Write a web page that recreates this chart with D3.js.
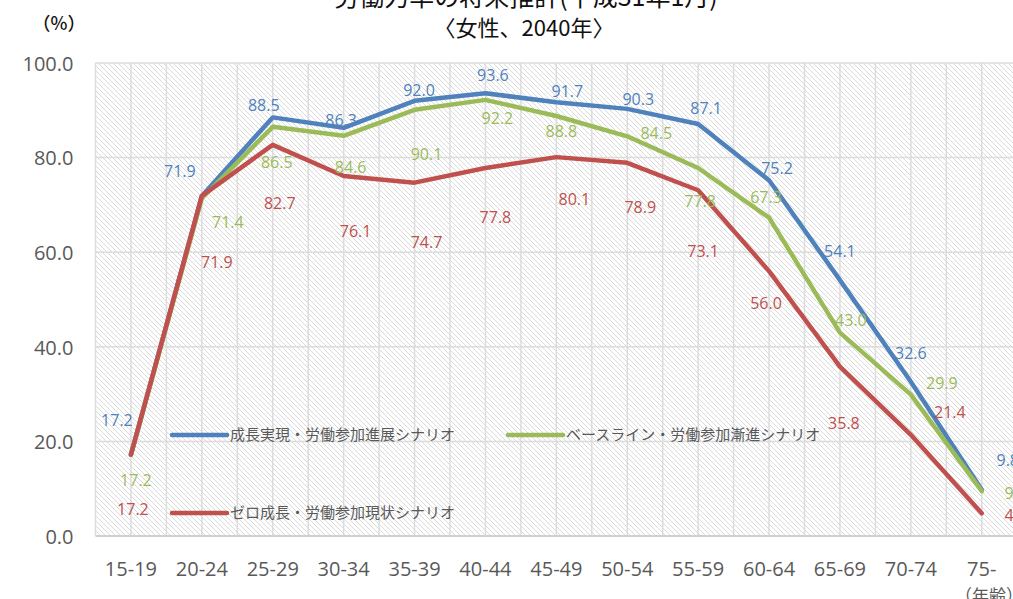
<!DOCTYPE html>
<html>
<head>
<meta charset="utf-8">
<script src="https://cdn.jsdelivr.net/npm/d3@7"></script>
<style>
  html, body { margin: 0; padding: 0; background: #fff; overflow: hidden; }
  svg { display: block; }
</style>
</head>
<body>
<svg id="chart" width="1013" height="599"></svg>
<script>
// ---- data ----
const categories = ["15-19","20-24","25-29","30-34","35-39","40-44","45-49","50-54","55-59","60-64","65-69","70-74","75-"];
const seriesNames = ["成長実現・労働参加進展シナリオ","ベースライン・労働参加漸進シナリオ","ゼロ成長・労働参加現状シナリオ"];
const growthValues   = [17.2, 71.9, 88.5, 86.3, 92.0, 93.6, 91.7, 90.3, 87.1, 75.2, 54.1, 32.6, 9.8];
const baselineValues = [17.2, 71.4, 86.5, 84.6, 90.1, 92.2, 88.8, 84.5, 77.8, 67.3, 43.0, 29.9, 9.5];
const zeroValues     = [17.2, 71.9, 82.7, 76.1, 74.7, 77.8, 80.1, 78.9, 73.1, 56.0, 35.8, 21.4, 4.8];
const yTicks = [0, 20, 40, 60, 80, 100];
const titleLines = ["労働力率の将来推計(平成31年1月)", "〈女性、2040年〉"];
const yUnit = "（%）";
const xUnit = "（年齢）";

// ---- layout / style (not data) ----
const colors = ["#4f81bd", "#9bbb59", "#c0504d"];
const labelOffsets = [
  [[-14,-34],[-22,-25],[-9,-12],[-2.5,-8],[4.5,-11],[7.5,-18],[11,-11],[11,-10],[8,-16],[8,-12],[0,-29],[0,-29],[26,-29]],
  [[5,26],[26,24],[4,35],[7,31],[12,44],[12,18],[5,15],[29,-3],[2,33],[-3,-20],[11,-12],[31,-11],[34,2]],
  [[2,55],[15,66],[7,58],[12,55],[12,60],[10,49],[18,42],[13,44],[5,61],[-3,32],[4,57],[39,-23],[34,2]]
];
const legendPos = [[172, 435], [508, 435], [172, 513]];

const svg = d3.select("#chart");
const plot = { left: 95.5, top: 63, bottom: 536, band: 70.9 };
plot.right = plot.left + plot.band * categories.length;

const x = d3.scaleBand().domain(categories).range([plot.left, plot.right]).padding(0);
const y = d3.scaleLinear().domain([0, 100]).range([plot.bottom, plot.top]);
const cx = c => x(c) + x.bandwidth() / 2;

// hatch pattern
const defs = svg.append("defs");
const pat = defs.append("pattern").attr("id", "hatch").attr("patternUnits", "userSpaceOnUse")
  .attr("width", 5).attr("height", 5);
pat.append("rect").attr("width", 5).attr("height", 5).attr("fill", "#fff");
pat.append("path").attr("d", "M-1,-1 L6,6 M-1,4 L1,6 M4,-1 L6,1")
  .attr("stroke", "#dadada").attr("stroke-width", 1);

svg.append("rect").attr("x", plot.left).attr("y", plot.top)
  .attr("width", plot.right - plot.left).attr("height", plot.bottom - plot.top)
  .attr("fill", "url(#hatch)");

// vertical gridlines (category boundaries and centers)
const vLines = [];
categories.forEach(c => { vLines.push(x(c)); vLines.push(cx(c)); });
vLines.push(plot.right);
svg.append("g").selectAll("line").data(vLines).join("line")
  .attr("x1", d => d).attr("x2", d => d)
  .attr("y1", plot.top).attr("y2", plot.bottom)
  .attr("stroke", "#dcdcdc").attr("stroke-width", 1.5);

// horizontal gridlines
svg.append("g").selectAll("line").data(yTicks).join("line")
  .attr("x1", plot.left).attr("x2", plot.right)
  .attr("y1", d => y(d)).attr("y2", d => y(d))
  .attr("stroke", d => d === 0 ? "#d0d0d0" : "#dcdcdc")
  .attr("stroke-width", d => d === 0 ? 2 : 1.5);

// y axis
const yAxis = svg.append("g").attr("transform", `translate(${plot.left - 22},0)`)
  .call(d3.axisLeft(y).tickValues(yTicks).tickFormat(d3.format(".1f")).tickSize(0).tickPadding(0));
yAxis.select(".domain").remove();
yAxis.selectAll("text").attr("font-family", "'Open Sans', sans-serif").attr("font-size", 20)
  .attr("fill", "#595959").attr("dy", "0.36em");

// x axis
const xAxis = svg.append("g").attr("transform", `translate(0,${plot.bottom})`)
  .call(d3.axisBottom(x).tickSize(0).tickPadding(0));
xAxis.select(".domain").remove();
xAxis.selectAll("text").attr("font-family", "'Open Sans', sans-serif").attr("font-size", 20)
  .attr("fill", "#595959").attr("y", 40).attr("dy", 0);

// lines
const allSeries = [growthValues, baselineValues, zeroValues];
const line = d3.line().x((d, i) => cx(categories[i])).y(d => y(d));
allSeries.forEach((vals, s) => {
  svg.append("path").datum(vals).attr("d", line)
    .attr("fill", "none").attr("stroke", colors[s]).attr("stroke-width", 4.5)
    .attr("stroke-linejoin", "round").attr("stroke-linecap", "round");
});

// legend
const legend = svg.append("g");
seriesNames.forEach((name, s) => {
  const [lx, ly] = legendPos[s];
  legend.append("line").attr("x1", lx).attr("x2", lx + 55).attr("y1", ly).attr("y2", ly)
    .attr("stroke", colors[s]).attr("stroke-width", 4.5).attr("stroke-linecap", "round");
  legend.append("text").attr("x", lx + 58).attr("y", ly).attr("dy", "0.36em")
    .attr("font-family", "'Noto Sans CJK JP', sans-serif").attr("font-size", 15)
    .attr("fill", "#595959").text(name);
});

// data labels
allSeries.forEach((vals, s) => {
  svg.append("g").selectAll("text").data(vals).join("text")
    .attr("x", (d, i) => cx(categories[i]) + labelOffsets[s][i][0])
    .attr("y", (d, i) => y(d) + labelOffsets[s][i][1])
    .attr("dy", "0.36em").attr("text-anchor", "middle")
    .attr("font-family", "'Open Sans', sans-serif").attr("font-size", 16)
    .attr("fill", colors[s]).text(d => d3.format(".1f")(d));
});

// titles
svg.append("text").attr("x", 526).attr("y", 6).attr("text-anchor", "middle")
  .attr("font-family", "'Noto Sans CJK JP', sans-serif").attr("font-size", 25)
  .attr("fill", "#111").text(titleLines[0]);
svg.append("text").attr("x", 524).attr("y", 36).attr("text-anchor", "middle")
  .attr("font-family", "'Noto Sans CJK JP', sans-serif").attr("font-size", 22)
  .attr("fill", "#111").text(titleLines[1]);

svg.append("text").attr("x", 59).attr("y", 30).attr("text-anchor", "middle")
  .attr("font-family", "'Noto Sans CJK JP', sans-serif").attr("font-size", 18)
  .attr("font-weight", 500).attr("fill", "#111").text(yUnit);
svg.append("text").attr("x", 955).attr("y", 602)
  .attr("font-family", "'Noto Sans CJK JP', sans-serif").attr("font-size", 17)
  .attr("fill", "#595959").text(xUnit);
</script>
</body>
</html>
